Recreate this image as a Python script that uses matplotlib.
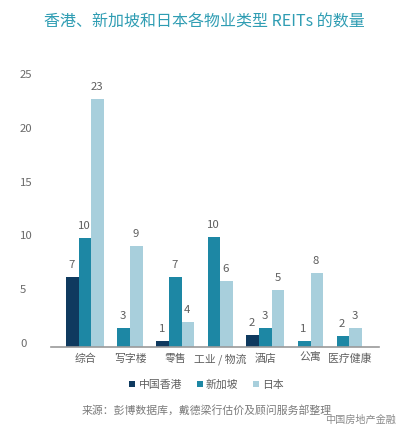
import matplotlib
matplotlib.use("Agg")
import matplotlib.pyplot as plt
from matplotlib.lines import Line2D
from matplotlib.transforms import ScaledTranslation

plt.rcParams['font.family'] = ['Noto Sans CJK SC', 'DejaVu Sans']
plt.rcParams['font.weight'] = 'light'

# ---- data ----
categories = ['综合', '写字楼', '零售', '工业 / 物流', '酒店', '公寓', '医疗健康']
series = ['中国香港', '新加坡', '日本']
# value labels printed on the chart
hk_labels = [7, 0, 1, 0, 2, 0, 0]
sg_labels = [10, 3, 7, 10, 3, 1, 2]
jp_labels = [23, 9, 4, 6, 5, 8, 3]
# bar heights as drawn in the reference
hk_heights = [6.5, 0, 0.5, 0, 1.05, 0, 0]
sg_heights = [10.1, 1.75, 6.5, 10.15, 1.72, 0.5, 1.0]
jp_heights = [23.0, 9.35, 2.3, 6.1, 5.25, 6.85, 1.72]
y_ticks = [0, 5, 10, 15, 20, 25]

colors = ['#0f3a5f', '#1d87a4', '#a8cfdc']
text_gray = '#5e5e5e'

DPI = 100
fig = plt.figure(figsize=(4.08, 4.37), dpi=DPI)
fig.patch.set_facecolor('white')

ax = fig.add_axes([51/408, 90.5/437, 328/408, 274.4/437])

heights = [hk_heights, sg_heights, jp_heights]
labels = [hk_labels, sg_labels, jp_labels]

bar_w = 1.0
gap = 1.05
cursor = 0.0
group_centers = []
for ci in range(len(categories)):
    centers = []
    for si in range(len(series)):
        h = heights[si][ci]
        if h <= 0:
            continue
        xc = cursor + bar_w / 2
        ax.bar(xc, h, width=bar_w, color=colors[si], linewidth=0)
        ax.annotate(str(labels[si][ci]), (xc, h), xytext=(-0.5, 5),
                    textcoords='offset points', ha='center', va='bottom',
                    fontsize=8.2, color=text_gray)
        centers.append(xc)
        cursor += bar_w
    group_centers.append(sum(centers) / len(centers))
    cursor += gap
cursor -= gap

ax.set_xlim(-1.18, cursor + 1.34)
ax.set_ylim(0, 25.5)

for s in ['top', 'right', 'left']:
    ax.spines[s].set_visible(False)
ax.spines['bottom'].set_color('#9a9a9a')
ax.spines['bottom'].set_linewidth(1.2)

ax.set_yticks(y_ticks)
ax.set_yticklabels([str(t) for t in y_ticks])
ax.tick_params(axis='y', length=0, pad=22.3, labelsize=8.2, labelcolor='#6a6a6a')
for lab in ax.get_yticklabels():
    lab.set_horizontalalignment('left')
    lab.set_transform(lab.get_transform() + ScaledTranslation(0, 3.5/DPI, fig.dpi_scale_trans))

ax.set_xticks(group_centers)
ax.set_xticklabels(categories)
ax.tick_params(axis='x', length=0, pad=5, labelsize=7.8, labelcolor=text_gray)

handles = [Line2D([0], [0], marker='s', linestyle='none', markersize=4.6,
                  markerfacecolor=c, markeredgewidth=0) for c in colors]
fig.legend(handles, series, loc='center', bbox_to_anchor=(0.505, 0.119), ncol=3,
           frameon=False, fontsize=7.8, labelcolor=text_gray,
           handletextpad=0.2, columnspacing=1.2, handlelength=0.8)

fig.text(0.5, 1 - 22/437, '香港、新加坡和日本各物业类型 REITs 的数量',
         ha='center', va='center', fontsize=11.5, color='#2f9db3')

fig.text(82/408, 1 - 410/437, '来源：彭博数据库，戴德梁行估价及顾问服务部整理',
         ha='left', va='center', fontsize=7.8, color='#7a7a7a')

fig.text(325/408, 1 - 420/437, '中国房地产金融',
         ha='left', va='center', fontsize=7.3, color='#8a8a8a')

fig.savefig('out.png', dpi=DPI)
